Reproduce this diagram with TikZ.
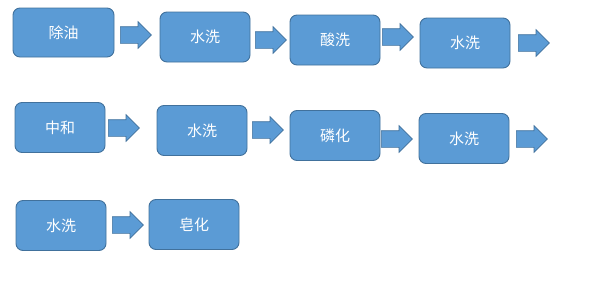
\documentclass[tikz,border=0pt]{standalone}
\usepackage{fontspec}
\newfontfamily\cjk{Noto Sans CJK SC}
\usetikzlibrary{shapes.arrows}
\definecolor{boxfill}{HTML}{5B9BD5}
\definecolor{boxline}{HTML}{41719C}
\tikzset{
  proc/.style={draw=boxline, fill=boxfill, line width=0.9pt, rounded corners=7pt,
    minimum width=90pt, minimum height=50pt, inner sep=0pt, text=white,
    font=\cjk\fontsize{15}{17}\selectfont},
  blockarrow/.style={single arrow, draw=boxline, fill=boxfill, line width=0.7pt,
    minimum height=31pt, inner xsep=0pt, inner ysep=8pt, single arrow head extend=5pt,
    single arrow tip angle=90, text width=0pt, text height=0pt, text depth=0pt, anchor=tail}
}
\begin{document}
\begin{tikzpicture}[x=1pt,y=-1pt]
\useasboundingbox (0,0) rectangle (605,281);
% row 1
\node[proc, minimum width=101pt, minimum height=49pt] (b1) at (63.5,32.5) {除油};
\node[proc] (b2) at (205,37) {水洗};
\node[proc] (b3) at (335,40) {酸洗};
\node[proc] (b4) at (465,43) {水洗};
\node[blockarrow] (a1) at (120,35) {};
\node[blockarrow] (a2) at (255,40) {};
\node[blockarrow] (a3) at (382,37) {};
\node[blockarrow] (a4) at (518,43) {};
% row 2
\node[proc] (b5) at (60,127.5) {中和};
\node[proc] (b6) at (202,130.5) {水洗};
\node[proc] (b7) at (335,135.5) {磷化};
\node[proc] (b8) at (464,138.5) {水洗};
\node[blockarrow] (a5) at (108,128) {};
\node[blockarrow] (a6) at (252,130) {};
\node[blockarrow] (a7) at (381,139) {};
\node[blockarrow] (a8) at (516,139) {};
% row 3
\node[proc] (b9) at (61,225.5) {水洗};
\node[proc] (b10) at (194,224.5) {皂化};
\node[blockarrow] (a9) at (112,225) {};
\end{tikzpicture}
\end{document}
